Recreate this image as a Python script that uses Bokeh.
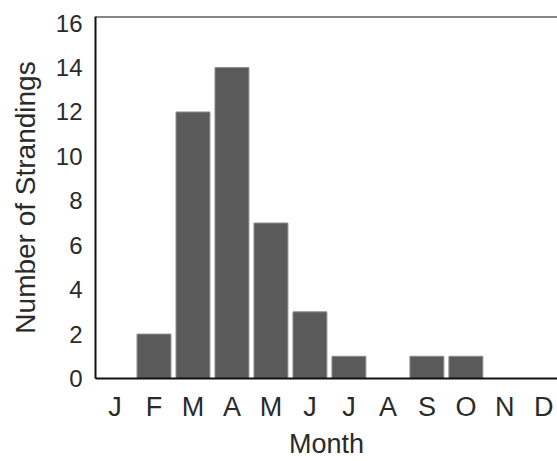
from bokeh.plotting import figure
from bokeh.models import Range1d, Span, FixedTicker
from bokeh.embed import file_html
from bokeh.resources import INLINE

months = ["J", "F", "M", "A", "M", "J", "J", "A", "S", "O", "N", "D"]
strandings = [0, 2, 12, 14, 7, 3, 1, 0, 1, 1, 0, 0]
y_ticks = [0, 2, 4, 6, 8, 10, 12, 14, 16]

xs = list(range(len(months)))

p = figure(width=557, height=461, output_backend="svg", toolbar_location=None,
           x_range=Range1d(-0.5, 11.35), y_range=Range1d(0, 16.3),
           min_border_left=95, min_border_top=16, min_border_bottom=82, min_border_right=0)
p.outline_line_color = None
p.xgrid.visible = False
p.ygrid.visible = False

p.vbar(x=xs, top=strandings, width=0.87, fill_color="#5a5a5a", line_color="#8c8c8c", line_width=1)

p.add_layout(Span(location=16.3, dimension="width", line_color="#111111", line_width=2))

font = "Liberation Sans"
for ax in (p.xaxis, p.yaxis):
    ax.major_tick_line_color = None
    ax.minor_tick_line_color = None
    ax.axis_line_color = "#111111"
    ax.axis_line_width = 2
    ax.major_label_text_font = font
    ax.major_label_text_color = "#2a2a2a"
    ax.axis_label_text_font = font
    ax.axis_label_text_font_style = "normal"
    ax.axis_label_text_color = "#2a2a2a"

p.xaxis.ticker = FixedTicker(ticks=xs)
p.xaxis.major_label_overrides = {i: m for i, m in enumerate(months)}
p.xaxis.major_label_text_font_size = "27px"
p.xaxis.major_label_standoff = 7
p.xaxis.axis_label = "Month"
p.xaxis.axis_label_text_font_size = "27px"
p.xaxis.axis_label_standoff = 4

p.yaxis.ticker = FixedTicker(ticks=y_ticks)
p.yaxis.major_label_text_font_size = "24px"
p.yaxis.major_label_standoff = 7
p.yaxis.axis_label = "Number of Strandings"
p.yaxis.axis_label_text_font_size = "28px"
p.yaxis.axis_label_standoff = 12

open("out.html", "w").write(file_html(p, INLINE))
